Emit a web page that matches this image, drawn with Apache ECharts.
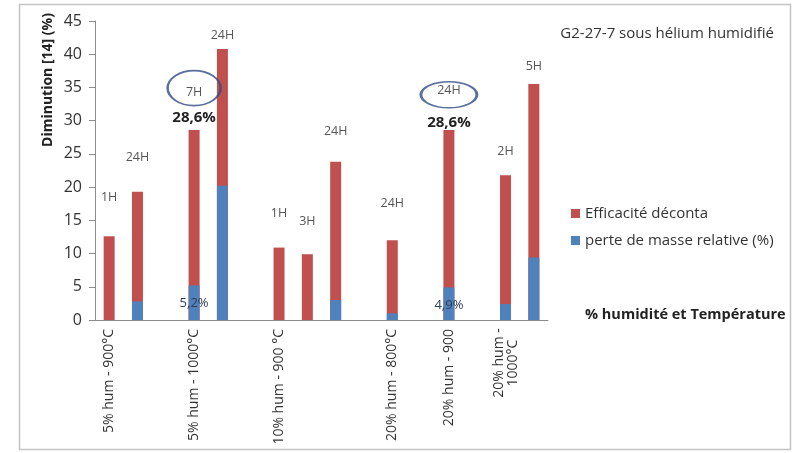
<!DOCTYPE html>
<html>
<head>
<meta charset="utf-8">
<script src="https://cdn.jsdelivr.net/npm/echarts@6/dist/echarts.min.js"></script>
<style>
  html, body { margin: 0; padding: 0; background: #fff; }
  #chart { width: 792px; height: 453px; }
</style>
</head>
<body>
<div id="chart"></div>
<script>
// 16 slots on the category axis, empty ones keep the gaps between groups
const categories = ['5% hum - 900°C', '', '', '5% hum - 1000°C', '', '', '10% hum - 900 °C', '', '', '',
    '20% hum - 800°C', '', '20% hum - 900', '', '20% hum -\n1000°C', ''];
const efficacite = [12.6, 19.3, null, 28.6, 40.8, null, 10.9, 9.9, 23.8, null, 12.0, null, 28.6, null, 21.8, 35.5];
const perteMasse = [0, 2.8, null, 5.2, 20.2, null, 0, 0, 3.0, null, 1.0, null, 4.9, null, 2.4, 9.4];
const durees = ['1H', '24H', '', '7H', '24H', '', '1H', '3H', '24H', '', '24H', '', '24H', '', '2H', '5H'];
// height (axis units) where each duration label sits
const dureeLabelAt = [18.5, 24.4, null, 34.2, 42.9, null, 16.0, 14.8, 28.4, null, 17.5, null, 34.6, null, 25.4, 38.1];
const yTicks = [0, 5, 10, 15, 20, 25, 30, 35, 40, 45];
const circled = [3, 12];
const circleAt = [34.9, 33.9];

const FONT = 'Open Sans';
const chart = echarts.init(document.getElementById('chart'));

const hourData = durees.map((d, i) => d ? [i, dureeLabelAt[i], d] : null).filter(Boolean);
const pct = (p) => String(p.value).replace('.', ',') + '%';

// multi-line axis labels: each line in a fixed-width box, centred
function centreLines(v) {
    const lines = v.split('\n');
    if (lines.length < 2) return v;
    return lines.map((l) => '{c|' + l + '}').join('\n');
}

const options = {
    animation: false,
    textStyle: { fontFamily: FONT },
    title: {
        text: 'G2-27-7 sous hélium humidifié',
        right: 13,
        top: 21,
        textStyle: { fontSize: 15, fontWeight: 'normal', color: '#333', fontFamily: FONT }
    },
    legend: {
        data: ['Efficacité déconta', 'perte de masse relative (%)'],
        orient: 'vertical',
        left: 566,
        top: 201,
        itemWidth: 9,
        itemHeight: 9,
        itemGap: 12,
        icon: 'rect',
        textStyle: { fontSize: 15, color: '#333', fontFamily: FONT }
    },
    grid: { left: 95, right: 244, top: 21, bottom: 133 },
    xAxis: {
        type: 'category',
        data: categories,
        name: '% humidité et Température',
        nameGap: 37,
        nameTextStyle: { fontSize: 14.5, fontWeight: 'bold', color: '#222', verticalAlign: 'bottom', padding: [0, 0, -2, 0] },
        axisLine: { lineStyle: { color: '#8c8c8c' } },
        axisTick: { interval: 0, length: 5, lineStyle: { color: '#8c8c8c' } },
        axisLabel: {
            interval: 0, rotate: 90, fontSize: 14, color: '#333', margin: 9, align: 'right',
            formatter: centreLines,
            rich: { c: { width: 68, align: 'center', fontSize: 14, color: '#333', fontFamily: FONT } }
        }
    },
    yAxis: {
        type: 'value',
        min: yTicks[0],
        max: yTicks[yTicks.length - 1],
        interval: 5,
        splitLine: { show: false },
        axisLine: { show: true, lineStyle: { color: '#8c8c8c' } },
        axisTick: { show: true, length: 6, lineStyle: { color: '#8c8c8c' } },
        axisLabel: { fontSize: 16, color: '#333', margin: 13 }
    },
    graphic: [
        {
            type: 'rect',
            shape: { x: 19.5, y: 4.5, width: 771, height: 445 },
            style: { fill: 'none', stroke: '#c4c4c4', lineWidth: 1.5 }
        },
        {
            type: 'text',
            x: 48, y: 80,
            rotation: Math.PI / 2,
            style: {
                text: 'Diminution [14] (%)',
                fontSize: 14, fontWeight: 'bold', fill: '#222', fontFamily: FONT,
                align: 'center', verticalAlign: 'middle'
            }
        }
    ],
    series: [
        {
            name: 'Efficacité déconta',
            type: 'bar',
            barWidth: 11,
            barGap: '-100%',
            itemStyle: { color: '#C0504D' },
            data: efficacite.map((v, i) => circled.includes(i) ? {
                value: v,
                label: {
                    show: true, position: 'top', distance: i === 3 ? 5 : 0,
                    formatter: pct,
                    fontSize: 15, fontWeight: 'bold', color: '#222'
                }
            } : v)
        },
        {
            name: 'perte de masse relative (%)',
            type: 'bar',
            barWidth: 11,
            itemStyle: { color: '#4F81BD' },
            data: perteMasse.map((v, i) => circled.includes(i) ? {
                value: v,
                label: {
                    show: true, position: 'insideTop', distance: 11,
                    formatter: pct,
                    fontSize: 13, color: '#2d3e55'
                }
            } : v)
        },
        {
            name: 'durees',
            type: 'scatter',
            symbolSize: 0,
            silent: true,
            data: hourData,
            label: {
                show: true, position: 'inside',
                formatter: (p) => p.value[2],
                fontSize: 12.5, color: '#2b2b2b'
            }
        },
        {
            name: 'cercles',
            type: 'scatter',
            silent: true,
            symbol: 'circle',
            itemStyle: { color: 'rgba(0,0,0,0)', borderColor: '#2F4C85', borderWidth: 2 },
            data: [
                { value: [circled[0], circleAt[0]], symbolSize: [53, 35] },
                { value: [circled[1], circleAt[1]], symbolSize: [56, 26] }
            ]
        }
    ]
};

chart.setOption(options);
</script>
</body>
</html>
